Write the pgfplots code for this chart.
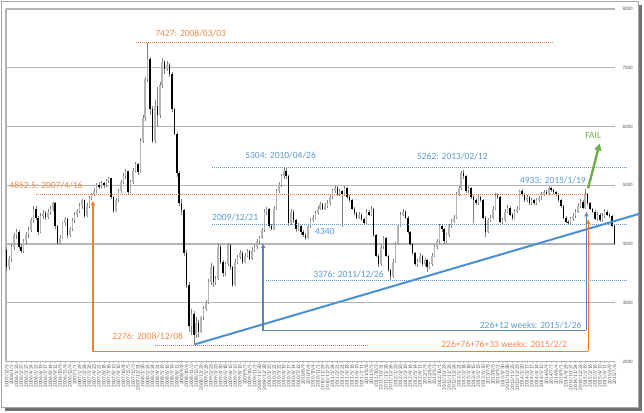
\documentclass[border=0pt]{standalone}
\usepackage{pgfplots}
\pgfplotsset{compat=1.18}
\usepackage{pgfplotstable}
\usepackage{fontspec}
\setmainfont{Carlito}
\usetikzlibrary{arrows.meta}
\definecolor{orng}{HTML}{ED7D31}
\definecolor{orngtxt}{HTML}{F08A4B}
\definecolor{bltxt}{HTML}{5B9BD5}
\definecolor{blline}{HTML}{5B9BD5}
\definecolor{boxblue}{HTML}{5F84B0}
\definecolor{trend}{HTML}{4A90D9}
\definecolor{grn}{HTML}{70AD47}
\definecolor{gridc}{HTML}{B4B4B4}
\definecolor{lbl}{HTML}{595959}
\definecolor{upc}{HTML}{B4B4B4}
\definecolor{wickc}{HTML}{808080}

\pgfplotstableread{
w o h l c
-5 3900 3950 3520 3600
-3 3600 3800 3560 3750
-1 3750 4000 3700 3950
1 3950 4180 3900 4150
3 4150 4250 4080 4200
5 4200 4230 3920 3950
7 3950 4000 3850 3880
9 3880 4090 3850 4050
11 4050 4200 4000 4150
13 4150 4280 4100 4230
15 4230 4450 4200 4400
17 4400 4650 4350 4600
19 4600 4640 4400 4450
21 4450 4480 4150 4200
23 4200 4520 4180 4480
25 4480 4580 4420 4520
27 4520 4560 4400 4460
29 4460 4590 4430 4540
31 4540 4650 4500 4600
33 4600 4716 4560 4700
35 4700 4710 4250 4300
37 4300 4330 3990 4020
39 4020 4150 4000 4100
41 4100 4380 4080 4350
43 4350 4460 4300 4430
45 4430 4450 4100 4150
47 4150 4290 4120 4250
49 4250 4440 4220 4400
51 4400 4540 4360 4500
53 4500 4600 4460 4560
55 4560 4690 4520 4650
57 4650 4760 4600 4740
59 4740 4750 4440 4480
61 4480 4690 4460 4650
63 4650 4810 4620 4780
65 4780 4870 4740 4850
67 4850 4950 4820 4900
69 4900 5040 4870 5000
71 5000 5050 4930 4980
73 4980 5080 4950 5030
75 5030 5060 4960 5000
77 5000 5110 4970 5080
79 5080 5142 5040 5120
81 5120 5130 4760 4800
83 4800 4820 4520 4560
85 4560 4780 4540 4750
87 4750 4940 4720 4900
89 4900 5090 4870 5050
91 5050 5200 5020 5150
93 5150 5270 5100 5240
95 5240 5250 4850 4880
97 4880 5090 4860 5050
99 5050 5290 5020 5250
101 5250 5400 5220 5360
103 5360 5380 5180 5220
105 5220 5800 5200 5750
107 5750 6200 5720 6150
109 6150 6850 6100 6800
111 6800 7427 6750 7150
113 7150 7180 6200 6300
115 6300 6350 5712 5750
117 5750 6450 5720 6350
119 6350 6670 5990 6200
121 6200 6750 6150 6700
123 6700 7160 6650 7100
125 7100 7130 6900 6980
127 6980 7120 6950 7050
129 7050 7080 6850 6900
131 6900 6920 6250 6300
133 6300 6320 5850 5880
135 5880 5900 5140 5200
137 5200 5250 4650 4700
139 4700 4760 4500 4580
141 4580 4600 3800 3850
143 3850 3900 3250 3300
145 3300 3350 2500 2600
147 2600 2900 2450 2800
149 2800 2850 2276 2450
151 2450 2750 2400 2650
153 2650 2700 2420 2500
155 2500 2780 2480 2750
157 2750 2950 2700 2900
159 2900 3050 2850 3000
161 3000 3400 2980 3350
163 3350 3670 3300 3600
165 3600 3640 3270 3350
167 3350 3450 3300 3400
169 3400 4000 3380 3950
171 3950 3980 3650 3700
173 3700 3720 3440 3500
175 3500 3700 3460 3650
177 3650 4010 3620 3980
179 3980 4000 3560 3600
181 3600 3620 3270 3300
183 3300 3740 3280 3700
185 3700 3820 3660 3780
187 3780 3900 3740 3850
189 3850 3880 3660 3700
191 3700 3840 3670 3800
193 3800 3920 3770 3880
195 3880 3900 3720 3750
197 3750 3940 3730 3900
199 3900 3990 3860 3950
201 3950 4090 3920 4050
203 4050 4140 4000 4100
205 4100 4270 4080 4230
207 4230 4590 4200 4550
209 4550 4630 4500 4600
211 4600 4620 4270 4300
213 4300 4340 4230 4250
215 4250 4640 4230 4600
217 4600 4940 4570 4900
219 4900 5050 4860 5000
221 5000 5190 4970 5150
223 5150 5290 5110 5250
225 5250 5304 5100 5150
227 5150 5170 4300 4350
229 4350 4590 4320 4550
231 4550 4570 4360 4400
233 4400 4420 4210 4250
235 4250 4350 4220 4300
237 4300 4320 4160 4200
239 4200 4240 4120 4150
241 4150 4180 4065 4100
243 4100 4330 4080 4300
245 4300 4440 4270 4400
247 4400 4490 4370 4450
249 4450 4560 4420 4520
251 4520 4640 4490 4600
253 4600 4710 4570 4680
255 4680 4700 4570 4600
257 4600 4690 4570 4650
259 4650 4740 4620 4700
261 4700 4840 4670 4800
263 4800 4940 4770 4900
265 4900 4990 4870 4960
267 4960 4980 4820 4850
269 4850 4940 4820 4900
271 4900 4920 4290 4850
273 4850 4990 4820 4950
275 4950 4970 4770 4800
277 4800 4830 4710 4750
279 4750 4770 4570 4600
281 4600 4630 4490 4520
283 4520 4550 4420 4450
285 4450 4540 4420 4500
287 4500 4520 4390 4420
289 4420 4440 4320 4350
291 4350 4590 4330 4550
293 4550 4580 4470 4500
295 4500 4640 4470 4600
297 4600 4620 4120 4150
299 4150 4170 3770 3800
301 3800 3830 3600 3650
303 3650 3990 3620 3950
305 3950 4130 3920 4100
307 4100 4120 3770 3800
309 3800 3820 3520 3550
311 3550 3580 3376 3450
313 3450 3740 3420 3700
315 3700 4040 3680 4000
317 4000 4340 3980 4300
319 4300 4540 4280 4500
321 4500 4600 4470 4550
323 4550 4570 4420 4450
325 4450 4470 4170 4200
327 4200 4220 3970 4000
329 4000 4020 3820 3850
331 3850 3870 3620 3650
333 3650 3740 3610 3700
335 3700 3840 3670 3800
337 3800 3820 3620 3650
339 3650 3760 3620 3720
341 3720 3740 3525 3600
343 3600 3690 3570 3650
345 3650 3840 3620 3800
347 3800 3990 3770 3950
349 3950 4090 3920 4050
351 4050 4340 4020 4300
353 4300 4330 4210 4250
355 4250 4270 4000 4050
357 4050 4190 4020 4150
359 4150 4340 4120 4300
361 4300 4420 4270 4380
363 4380 4490 4350 4450
365 4450 4890 4420 4850
367 4850 4990 4820 4950
369 4950 5240 4920 5200
371 5200 5262 5100 5150
373 5150 5170 4870 4900
375 4900 4990 4870 4950
377 4950 4970 4770 4800
379 4800 4830 4350 4750
381 4750 4780 4670 4700
383 4700 4840 4670 4800
385 4800 4820 4720 4750
387 4750 4770 4420 4450
389 4450 4470 4120 4200
391 4200 4440 4180 4400
393 4400 4490 4370 4450
395 4450 4640 4420 4600
397 4600 4860 4570 4820
399 4820 4860 4770 4800
401 4800 4820 4350 4380
403 4380 4440 4340 4400
405 4400 4590 4370 4550
407 4550 4660 4520 4620
409 4620 4640 4470 4500
411 4500 4520 4400 4450
413 4450 4590 4420 4550
415 4550 4640 4520 4600
417 4600 4920 4570 4900
419 4900 4930 4820 4850
421 4850 4870 4720 4750
423 4750 4840 4720 4800
425 4800 4820 4670 4700
427 4700 4790 4670 4750
429 4750 4770 4670 4700
431 4700 4780 4670 4740
433 4740 4820 4710 4780
435 4780 4890 4750 4850
437 4850 4920 4820 4880
439 4880 4910 4830 4870
441 4870 4980 4840 4950
443 4950 4970 4890 4920
445 4920 4940 4850 4880
447 4880 4900 4820 4850
449 4850 4870 4720 4750
451 4750 4770 4620 4650
453 4650 4670 4420 4450
455 4450 4470 4350 4380
457 4380 4400 4318 4350
459 4350 4460 4330 4420
461 4420 4520 4390 4480
463 4480 4590 4450 4550
465 4550 4690 4520 4650
467 4650 4760 4620 4720
469 4720 4740 4590 4620
471 4620 4933 4600 4850
473 4850 4870 4660 4700
475 4700 4720 4570 4600
477 4600 4620 4520 4550
479 4550 4570 4400 4420
481 4420 4540 4390 4500
483 4500 4520 4380 4400
485 4400 4520 4380 4480
487 4480 4590 4450 4550
489 4550 4570 4470 4500
491 4500 4520 4440 4480
493 4480 4500 4280 4300
495 4300 4320 3980 4000
}\data

\begin{document}
\begin{tikzpicture}[x=1pt,y=1pt]
\path[use as bounding box] (0,0) rectangle (644,412);
\fill[black!55] (5,1) rectangle (642,407);
\draw[fill=white, draw=black!35, line width=0.8pt] (1,5) rectangle (638,411);
\begin{axis}[
  at={(6pt,50.6pt)}, anchor=south west,
  scale only axis, width=609pt, height=352.4pt,
  xmin=-5.5, xmax=495.5, ymin=2000, ymax=8000,
  clip=false,
  axis line style={draw=none},
  ymajorgrids, grid style={draw=gridc, line width=1.4pt},
  ytick={2000,3000,...,8000},
  yticklabel pos=right,
  ytick style={draw=none},
  yticklabel style={anchor=west, xshift=2pt, font=\fontsize{5}{6}\selectfont, text=lbl},
  xtick={-5,-1,...,495},
  xtick pos=bottom,
  xtick style={draw=gridc, line width=0.4pt},
  major tick length=2pt, tick align=outside,
  xticklabels={2005/12/5,2006/1/2,2006/1/30,2006/2/27,2006/3/27,2006/4/24,2006/5/22,2006/6/19,2006/7/17,2006/8/14,2006/9/11,2006/10/9,2006/11/6,2006/12/4,2007/1/1,2007/1/29,2007/2/26,2007/3/26,2007/4/23,2007/5/21,2007/6/18,2007/7/16,2007/8/13,2007/9/10,2007/10/8,2007/11/5,2007/12/3,2007/12/31,2008/1/28,2008/2/25,2008/3/24,2008/4/21,2008/5/19,2008/6/16,2008/7/14,2008/8/11,2008/9/8,2008/10/6,2008/11/3,2008/12/1,2008/12/29,2009/1/26,2009/2/23,2009/3/23,2009/4/20,2009/5/18,2009/6/15,2009/7/13,2009/8/10,2009/9/7,2009/10/5,2009/11/2,2009/11/30,2009/12/28,2010/1/25,2010/2/22,2010/3/22,2010/4/19,2010/5/17,2010/6/14,2010/7/12,2010/8/9,2010/9/6,2010/10/4,2010/11/1,2010/11/29,2010/12/27,2011/1/24,2011/2/21,2011/3/21,2011/4/18,2011/5/16,2011/6/13,2011/7/11,2011/8/8,2011/9/5,2011/10/3,2011/10/31,2011/11/28,2011/12/26,2012/1/23,2012/2/20,2012/3/19,2012/4/16,2012/5/14,2012/6/11,2012/7/9,2012/8/6,2012/9/3,2012/10/1,2012/10/29,2012/11/26,2012/12/24,2013/1/21,2013/2/18,2013/3/18,2013/4/15,2013/5/13,2013/6/10,2013/7/8,2013/8/5,2013/9/2,2013/9/30,2013/10/28,2013/11/25,2013/12/23,2014/1/20,2014/2/17,2014/3/17,2014/4/14,2014/5/12,2014/6/9,2014/7/7,2014/8/4,2014/9/1,2014/9/29,2014/10/27,2014/11/24,2014/12/22,2015/1/19,2015/2/16,2015/3/16,2015/4/13,2015/5/11,2015/6/8,2015/7/6},
  xticklabel style={rotate=90, anchor=east, inner sep=1pt, font=\fontsize{5.3}{6}\selectfont, text=lbl},
  /pgf/number format/1000 sep={},
  /pgf/number format/assume math mode=true,
]
% left border
\draw[gridc, line width=1.4pt] (axis cs:-5.5,2000) -- (axis cs:-5.5,8000);
% wicks
\addplot[draw=none, mark=none, forget plot,
  error bars/.cd, y dir=both, y explicit, error mark=none,
  error bar style={draw=wickc, line width=0.5pt}]
  table[x=w, y expr={(\thisrow{h}+\thisrow{l})/2}, y error expr={(\thisrow{h}-\thisrow{l})/2}] {\data};
% up bodies
\addplot[draw=none, mark=none, forget plot,
  restrict expr to domain={\thisrow{c}-\thisrow{o}}{0:100000},
  error bars/.cd, y dir=both, y explicit, error mark=none,
  error bar style={draw=upc, line width=1.5pt}]
  table[x=w, y expr={(\thisrow{o}+\thisrow{c})/2}, y error expr={abs(\thisrow{c}-\thisrow{o})/2}] {\data};
% down bodies
\addplot[draw=none, mark=none, forget plot,
  restrict expr to domain={\thisrow{c}-\thisrow{o}}{-100000:-0.5},
  error bars/.cd, y dir=both, y explicit, error mark=none,
  error bar style={draw=black, line width=1.5pt}]
  table[x=w, y expr={(\thisrow{o}+\thisrow{c})/2}, y error expr={abs(\thisrow{c}-\thisrow{o})/2}] {\data};

% dotted reference lines
\draw[orng, line width=0.7pt, dash pattern=on 0.9pt off 1.1pt] (axis cs:101.6,7427) -- (axis cs:444.3,7427);
\draw[orng, line width=0.7pt, dash pattern=on 0.9pt off 1.1pt] (axis cs:19.4,4852.5) -- (axis cs:473.1,4852.5);
\draw[orng, line width=0.7pt, dash pattern=on 0.9pt off 1.1pt] (axis cs:117.2,2276) -- (axis cs:292.3,2276);
\draw[blline, line width=0.7pt, dash pattern=on 0.9pt off 1.1pt] (axis cs:164,5304) -- (axis cs:506,5304);
\draw[blline, line width=0.7pt, dash pattern=on 0.9pt off 1.1pt] (axis cs:164,4340) -- (axis cs:506,4340);
\draw[blline, line width=0.7pt, dash pattern=on 0.9pt off 1.1pt] (axis cs:208.4,3376) -- (axis cs:506,3376);

% trend line
\draw[trend, line width=2pt] (axis cs:150.1,2292) -- (axis cs:515.8,4515);

% orange bracket
\draw[orng, line width=1.2pt, -{Triangle[width=4pt,length=4.5pt]}] (axis cs:473.5,2172) -- (axis cs:473.5,4417);
\draw[orng, line width=1.2pt, -{Triangle[width=4pt,length=4.5pt]}] (axis cs:473.5,2172) -- (axis cs:66,2172) -- (axis cs:66,4733);
% blue bracket
\draw[boxblue, line width=1.2pt, -{Triangle[width=4pt,length=4.5pt]}] (axis cs:472,2530) -- (axis cs:472,4546);
\draw[boxblue, line width=1.2pt, -{Triangle[width=4pt,length=4.5pt]}] (axis cs:472,2530) -- (axis cs:206,2530) -- (axis cs:206,4008);

% green FAIL arrow
\draw[grn, line width=2.4pt, -{Triangle[width=7pt,length=7pt]}] (axis cs:473.3,4945) -- (axis cs:482.9,5711);
\node[text=grn, font=\fontsize{9.5}{11}\selectfont, inner sep=0] at (axis cs:477.6,5853) {FAIL};

% labels
\begin{scope}[every node/.style={inner sep=0, font=\fontsize{9.5}{11}\selectfont}]
\node[text=orngtxt, anchor=west] at (axis cs:117.2,7591) {7427: 2008/03/03};
\node[text=orngtxt, anchor=west] at (axis cs:-2.8,4996) {4852.5: 2007/4/16};
\node[text=orngtxt, anchor=east] at (axis cs:140.2,2428) {2276: 2008/12/08};
\node[text=bltxt, anchor=west] at (axis cs:191.2,5512) {5304: 2010/04/26};
\node[text=bltxt, anchor=west] at (axis cs:332.5,5495) {5262: 2013/02/12};
\node[text=bltxt, anchor=west] at (axis cs:417.2,5086) {4933: 2015/1/19};
\node[text=bltxt, anchor=west] at (axis cs:164,4456) {2009/12/21};
\node[text=bltxt, anchor=west] at (axis cs:248.7,4205) {4340};
\node[text=bltxt, anchor=west] at (axis cs:247.1,3484) {3376: 2011/12/26};
\node[text=bltxt, anchor=east] at (axis cs:468,2610) {226+12 weeks: 2015/1/26};
\node[text=orngtxt, anchor=east] at (axis cs:456,2286) {226+76+76+33 weeks: 2015/2/2};
\end{scope}
\end{axis}
\end{tikzpicture}
\end{document}
